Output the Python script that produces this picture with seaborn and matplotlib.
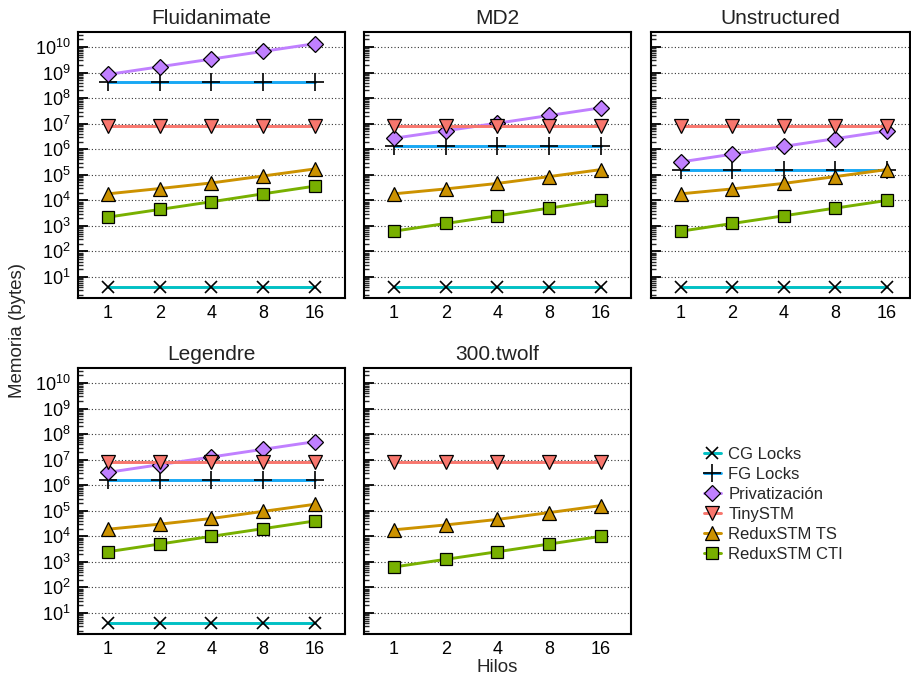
import numpy as np
import pandas as pd
import matplotlib
matplotlib.use("Agg")
import matplotlib.pyplot as plt
from matplotlib.ticker import LogLocator, NullFormatter, FixedLocator
import seaborn as sns

# Thread counts on the x axis
threads = [1, 2, 4, 8, 16]

benchmarks = ["Fluidanimate", "MD2", "Unstructured", "Legendre", "300.twolf"]
series = ["CG Locks", "FG Locks", "Privatización", "TinySTM", "ReduxSTM TS", "ReduxSTM CTI"]

# Memory usage (bytes) per benchmark and technique
fluidanimate_cg = [4, 4, 4, 4, 4]
fluidanimate_fg = [4.3e8, 4.3e8, 4.3e8, 4.3e8, 4.3e8]
fluidanimate_priv = [8.5e8, 1.7e9, 3.4e9, 6.8e9, 1.36e10]
fluidanimate_tiny = [8.5e6, 8.5e6, 8.5e6, 8.5e6, 8.5e6]
fluidanimate_ts = [1.8e4, 2.9e4, 4.8e4, 9.0e4, 1.7e5]
fluidanimate_cti = [2.2e3, 4.4e3, 8.8e3, 1.8e4, 3.6e4]

md2_cg = [4, 4, 4, 4, 4]
md2_fg = [1.3e6, 1.3e6, 1.3e6, 1.3e6, 1.3e6]
md2_priv = [2.7e6, 5.3e6, 1.05e7, 2.1e7, 4.2e7]
md2_tiny = [8.5e6, 8.5e6, 8.5e6, 8.5e6, 8.5e6]
md2_ts = [1.8e4, 2.8e4, 4.6e4, 8.5e4, 1.6e5]
md2_cti = [6.2e2, 1.24e3, 2.48e3, 4.96e3, 9.9e3]

unstructured_cg = [4, 4, 4, 4, 4]
unstructured_fg = [1.6e5, 1.6e5, 1.6e5, 1.6e5, 1.6e5]
unstructured_priv = [3.2e5, 6.4e5, 1.3e6, 2.6e6, 5.2e6]
unstructured_tiny = [8.5e6, 8.5e6, 8.5e6, 8.5e6, 8.5e6]
unstructured_ts = [1.8e4, 2.8e4, 4.6e4, 8.5e4, 1.6e5]
unstructured_cti = [6.2e2, 1.24e3, 2.48e3, 4.96e3, 9.9e3]

legendre_cg = [4, 4, 4, 4, 4]
legendre_fg = [1.55e6, 1.55e6, 1.55e6, 1.55e6, 1.55e6]
legendre_priv = [3.2e6, 6.4e6, 1.28e7, 2.56e7, 5.1e7]
legendre_tiny = [8.5e6, 8.5e6, 8.5e6, 8.5e6, 8.5e6]
legendre_ts = [1.9e4, 3.0e4, 5.0e4, 9.5e4, 1.8e5]
legendre_cti = [2.5e3, 5.0e3, 1.0e4, 2.0e4, 4.0e4]

twolf_tiny = [8.5e6, 8.5e6, 8.5e6, 8.5e6, 8.5e6]
twolf_ts = [1.8e4, 2.8e4, 4.6e4, 8.5e4, 1.6e5]
twolf_cti = [6.3e2, 1.26e3, 2.5e3, 5.0e3, 1.0e4]

values = {
    "Fluidanimate": [fluidanimate_cg, fluidanimate_fg, fluidanimate_priv,
                     fluidanimate_tiny, fluidanimate_ts, fluidanimate_cti],
    "MD2": [md2_cg, md2_fg, md2_priv, md2_tiny, md2_ts, md2_cti],
    "Unstructured": [unstructured_cg, unstructured_fg, unstructured_priv,
                     unstructured_tiny, unstructured_ts, unstructured_cti],
    "Legendre": [legendre_cg, legendre_fg, legendre_priv,
                 legendre_tiny, legendre_ts, legendre_cti],
    "300.twolf": [None, None, None, twolf_tiny, twolf_ts, twolf_cti],
}

rows = []
for bench in benchmarks:
    for name, vals in zip(series, values[bench]):
        if vals is None:
            continue
        for t, v in zip(threads, vals):
            rows.append({"bench": bench, "series": name,
                         "pos": np.log2(t), "mem": v})
df = pd.DataFrame(rows)

# Line colour, marker, marker face, marker size per technique
styles = {
    "CG Locks":      dict(color="#00c0c4", marker="x", mfc="black", ms=9, mew=1.2),
    "FG Locks":      dict(color="#18a8f4", marker="+", mfc="black", ms=13, mew=1.2),
    "Privatización": dict(color="#c080ff", marker="D", mfc="#c080ff", ms=8, mew=0.9),
    "TinySTM":       dict(color="#f8766d", marker="v", mfc="#f8766d", ms=10.5, mew=0.9),
    "ReduxSTM TS":   dict(color="#cc9200", marker="^", mfc="#cc9200", ms=10.5, mew=0.9),
    "ReduxSTM CTI":  dict(color="#78b000", marker="s", mfc="#78b000", ms=8, mew=0.9),
}

sns.set_theme(style="white")
plt.rcParams["font.family"] = ["Liberation Sans", "DejaVu Sans"]
plt.rcParams["mathtext.fontset"] = "custom"
plt.rcParams["mathtext.rm"] = "Liberation Sans"
plt.rcParams["mathtext.it"] = "Liberation Sans:italic"

W, H = 912, 679
fig = plt.figure(figsize=(W / 100, H / 100), dpi=100)

# Panel boxes in pixels: (left, top, right, bottom)
boxes = {
    "Fluidanimate": (78, 32, 345, 298),
    "MD2": (364, 32, 631, 298),
    "Unstructured": (651, 32, 910, 298),
    "Legendre": (78, 368, 345, 634),
    "300.twolf": (364, 368, 631, 634),
}

axes = {}
for bench in benchmarks:
    l, t, r, b = boxes[bench]
    ax = fig.add_axes([l / W, 1 - b / H, (r - l) / W, (b - t) / H])
    axes[bench] = ax
    sub = df[df["bench"] == bench]
    for name in series:
        s = sub[sub["series"] == name]
        if s.empty:
            continue
        st = styles[name]
        mec = st["mfc"] if st["marker"] in ("x", "+") else "black"
        sns.lineplot(data=s, x="pos", y="mem", ax=ax, color=st["color"],
                     lw=2.1, marker=st["marker"], markersize=st["ms"],
                     markerfacecolor=st["mfc"], markeredgecolor=mec,
                     markeredgewidth=st["mew"], label=name, legend=False)
    ax.set_yscale("log")
    ax.set_ylim(1.5, 3.9e10)
    right = 4.58 if bench != "Unstructured" else 4.45
    ax.set_xlim(-0.58, right)
    ax.set_xticks(np.log2(threads))
    ax.set_xticklabels([str(t) for t in threads])
    ax.yaxis.set_major_locator(FixedLocator([10.0 ** k for k in range(1, 11)]))
    ax.yaxis.set_minor_locator(LogLocator(base=10, subs=np.arange(2, 10), numticks=20))
    ax.yaxis.set_minor_formatter(NullFormatter())
    ax.grid(False)
    ax.yaxis.grid(True, which="major", linestyle=(0, (1, 2)), color="#333333", lw=0.8)
    ax.tick_params(axis="y", which="major", direction="in", length=7, width=1.3,
                   left=True, right=False, labelsize=13, colors="black", pad=5)
    ax.tick_params(axis="y", which="minor", direction="in", length=3.5, width=1,
                   left=True, right=False)
    ax.tick_params(axis="x", length=0, labelsize=13, pad=5, colors="black")
    if bench not in ("Fluidanimate", "Legendre"):
        ax.tick_params(axis="y", which="both", labelleft=False)
    for sp in ax.spines.values():
        sp.set_color("black")
        sp.set_linewidth(1.5)
    ax.set_xlabel("")
    ax.set_ylabel("")
    ax.set_title(bench, fontsize=15, pad=6, color="#222222")

fig.text(18 / W, 1 - 330 / H, "Memoria (bytes)", rotation=90, ha="center",
         va="center", fontsize=13.5)
fig.text(497 / W, 1 - 667 / H, "Hilos", ha="center", va="center", fontsize=13.5)

handles, labels = axes["Fluidanimate"].get_legend_handles_labels()
fig.legend(handles, labels, loc="upper left", bbox_to_anchor=(704 / W, 1 - 447 / H),
           frameon=False, fontsize=12, handlelength=1.0, handletextpad=0.45,
           labelspacing=0.3, borderpad=0, borderaxespad=0)

fig.savefig("out.png", dpi=100)
